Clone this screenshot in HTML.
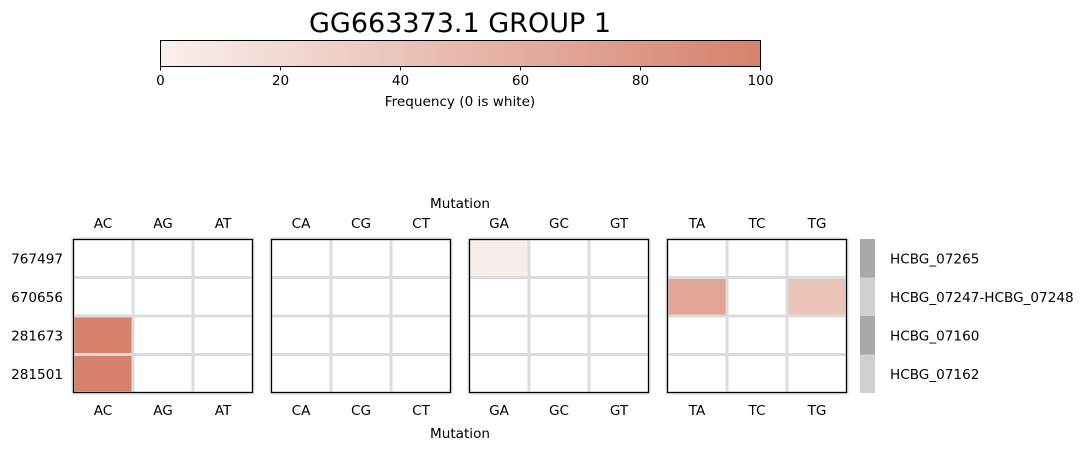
<!DOCTYPE html>
<html><head><meta charset="utf-8"><style>
body{margin:0;background:#fff;}
svg{display:block;font-family:"DejaVu Sans","Liberation Sans",sans-serif;}
</style></head><body>
<svg id="c" width="1086" height="450" viewBox="0 0 1086 450">
<defs><linearGradient id="g" x1="0" x2="1"><stop offset="0" stop-color="#f9f0ee"/><stop offset="1" stop-color="#d6816c"/></linearGradient></defs>
<text x="460" y="32" font-size="27" text-anchor="middle">GG663373.1 GROUP 1</text>
<rect x="160.5" y="40.5" width="600" height="26" fill="url(#g)" stroke="#000"/>
<text x="460" y="106" font-size="13.6" text-anchor="middle">Frequency (0 is white)</text>
<text x="460" y="208" font-size="13.6" text-anchor="middle">Mutation</text>
<text x="460" y="438" font-size="13.6" text-anchor="middle">Mutation</text>
</svg>
<script>
const cbTicks=[0,20,40,60,80,100];
const rows=["767497","670656","281673","281501"];
const genes=["HCBG_07265","HCBG_07247-HCBG_07248","HCBG_07160","HCBG_07162"];
const groups=[["AC","AG","AT"],["CA","CG","CT"],["GA","GC","GT"],["TA","TC","TG"]];
const values=[
 [[0,0,0],[0,0,0],[3,0,0],[0,0,0]],
 [[0,0,0],[0,0,0],[0,0,0],[68,0,40]],
 [[100,0,0],[0,0,0],[0,0,0],[0,0,0]],
 [[100,0,0],[0,0,0],[0,0,0],[0,0,0]]
];
const svg=document.getElementById('c');
const NS='http://www.w3.org/2000/svg';
const FS=13.6;
function mk(t,a,txt){const e=document.createElementNS(NS,t);for(const k in a)e.setAttribute(k,a[k]);if(txt!=null)e.textContent=txt;svg.appendChild(e);return e;}
const cbX=v=>160.5+v/100*600;
cbTicks.forEach(t=>{
 const l=mk('line',{x1:cbX(t),x2:cbX(t),y1:66.5,y2:70.5,stroke:'#000'});
 
 
 const tx=mk('text',{x:cbX(t),y:85,'font-size':FS,'text-anchor':'middle'},t);
 
 
});
function col(v){if(v<=0)return '#ffffff';const f=v/100;const a=[249,240,238],b=[214,129,108];return 'rgb('+a.map((x,i)=>Math.round(x+(b[i]-x)*f)).join(',')+')';}
const panelX=[73,271,469,667],pw=180,topY=239,ph=154,rh=ph/rows.length,cw=pw/3;
groups.forEach((g,p)=>{
 const x0=panelX[p];
 rows.forEach((r,i)=>{g.forEach((m,j)=>{
  const c=mk('rect',{x:x0+j*cw,y:topY+i*rh,width:cw,height:rh,fill:col(values[i][p][j]),stroke:'#dcdcdc','stroke-width':3});
  
  
 });});
 const b=mk('rect',{x:x0+0.5,y:topY+0.5,width:pw-1,height:ph-1,fill:'none',stroke:'#000','stroke-width':1.2});
 
 
 g.forEach((m,j)=>{
  const cx=x0+j*cw+cw/2;
  const t1=mk('text',{x:cx,y:228,'font-size':FS,'text-anchor':'middle'},m);
  
  
  const t2=mk('text',{x:cx,y:415,'font-size':FS,'text-anchor':'middle'},m);
  
  
 });
});
rows.forEach((r,i)=>{
 const cy=topY+i*rh+rh/2+5;
 const t=mk('text',{x:63,y:cy,'font-size':FS,'text-anchor':'end'},r);
 
 
 const s=mk('rect',{x:860,y:topY+i*rh,width:15,height:rh,fill:i%2?'#d0d0d0':'#a9a9a9'});
 
 
 const gt=mk('text',{x:890,y:cy,'font-size':FS},genes[i]);
 
 
});
</script>
</body></html>
